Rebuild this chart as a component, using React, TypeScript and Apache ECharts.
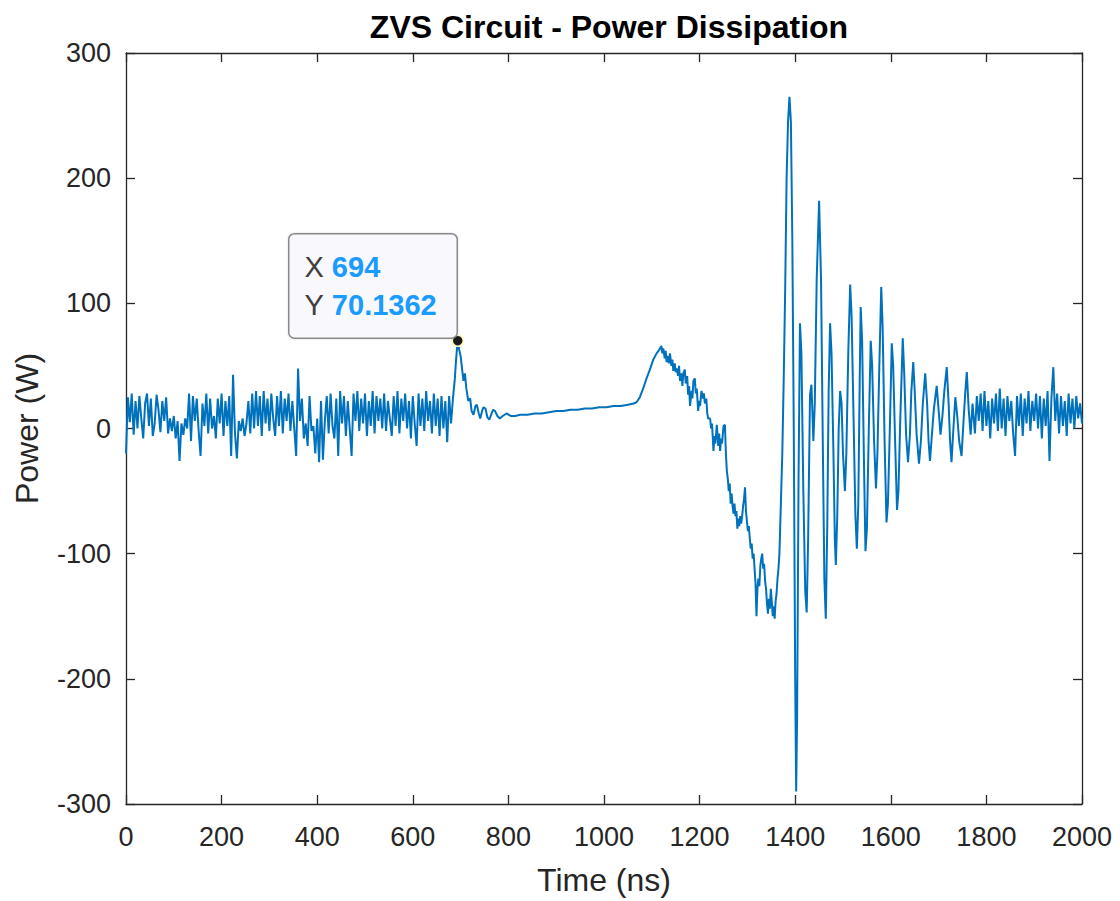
import React, { useEffect, useRef } from "react";
import * as echarts from "echarts";

// Noise before the switching event, sampled every 4 ns from t = 0
const noiseStartT = 0;
const noiseStep = 4;
const noiseBefore = [
  -20, 25, 5, 28, -5, 22, 0, 26, 8, -8,
  20, 28, 2, 24, -6, 4, 27, 15, -3, 22,
  6, 25, -4, 8, -2, 10, -8, 6, -26, 4,
  -5, 8, 0, 28, -10, 26, 6, 24, -2, -22,
  20, 2, 28, -4, 24, 0, 10, -8, 24, 4,
  28, -6, 22, 2, 26, -22, 43, -4, -24, 6,
  -2, 8, -6, 4, 22, -4, 28, 0, 30, 2,
  26, -6, 30, 4, 24, -2, 28, 8, -6, 26,
  2, 30, -4, 24, 6, 28, -2, 22, 0, -22,
  48, 6, 24, -8, 4, -14, 26, -2, 2, -20,
  8, -27, 22, -25, 6, 26, -4, 28, 2, -8,
  24, -22, 30, 4, 26, -6, 22, 0, -22, 28,
  6, 30, -2, 24, 4, 28, -6, 22, 2, 30,
  -4, 26, 6, 24, 0, 28, -2, 22, 8, -6,
  26, 2, 30, -4, 24, 6, 28, 0, 22, -8,
  26, 4, -14, 28, 2, 24, -2, 30, 6, 22,
  -4, 28, 2, 24, -6, 26, 0, 22, -11, 26,
  4, 24,
];

// Turn-off peak, plateau and hump: [time ns, power W]
const humpPoints: [number, number][] = [
  [688, 40], [690, 52], [692, 62], [694, 70.1362], [697, 63], [700, 58], [703, 48],
  [706, 38], [709, 44], [712, 32], [716, 22], [720, 24], [723, 14], [727, 11],
  [731, 18], [734, 19], [738, 12], [741, 8], [745, 14], [748, 17], [752, 16],
  [756, 9], [760, 7], [764, 11], [768, 15], [772, 14], [777, 10], [782, 8],
  [788, 10], [796, 12], [805, 10], [814, 10], [825, 11], [840, 11], [855, 12],
  [870, 12], [885, 13], [900, 14], [915, 14], [930, 15], [945, 15], [960, 16],
  [975, 16], [990, 17], [1005, 17], [1020, 18], [1035, 18], [1050, 19], [1062, 20],
  [1068, 21], [1075, 25], [1082, 32], [1089, 40], [1096, 47], [1103, 55], [1110, 60],
  [1114, 62], [1117, 64], [1120, 66], [1122, 60], [1124, 64], [1127, 56], [1129, 62],
  [1131, 53], [1134, 58], [1136, 52], [1138, 60], [1141, 50], [1143, 55], [1145, 46],
  [1148, 52], [1150, 45], [1152, 48], [1155, 42], [1157, 50], [1159, 38], [1162, 44],
  [1164, 34], [1166, 44], [1169, 47], [1171, 36], [1174, 42], [1176, 27], [1178, 34],
  [1180, 18], [1183, 30], [1185, 24], [1187, 38], [1190, 40], [1192, 28], [1194, 32],
  [1197, 14], [1199, 22], [1201, 18], [1204, 30], [1207, 24], [1209, 28], [1211, 20],
  [1214, 24], [1216, 12], [1218, 8],
];

// Descent and ringing: [time ns, power W]
const ringPoints: [number, number][] = [
  [1222, 8], [1224, 0], [1226, 4], [1229, -18], [1231, -6], [1233, -12], [1236, 3],
  [1238, -8], [1239, -14], [1241, -4], [1243, -18], [1245, -8], [1247, -12], [1250, 2],
  [1253, 3], [1255, -20], [1257, -34], [1259, -40], [1261, -50], [1263, -44], [1265, -60],
  [1267, -52], [1269, -62], [1271, -68], [1273, -60], [1275, -70], [1277, -66],
  [1279, -80], [1281, -72], [1283, -78], [1285, -70], [1287, -76], [1289, -70],
  [1291, -62], [1293, -56], [1295, -47], [1297, -66], [1299, -74], [1301, -82],
  [1303, -78], [1305, -88], [1307, -96], [1309, -92], [1311, -104], [1313, -100],
  [1315, -112], [1317, -124], [1319, -150], [1321, -128], [1323, -120], [1325, -126],
  [1327, -110], [1329, -104], [1331, -100], [1333, -112], [1335, -108], [1337, -122],
  [1339, -128], [1341, -140], [1343, -148], [1345, -136], [1347, -144], [1349, -128],
  [1351, -138], [1353, -150], [1355, -142], [1357, -152], [1359, -138], [1361, -132],
  [1363, -120], [1365, -112], [1367, -100], [1370, -60], [1373, -20], [1376, 40],
  [1379, 110], [1382, 200], [1385, 245], [1388, 265], [1391, 245], [1394, 150],
  [1397, 0], [1400, -200], [1402, -290], [1404, -230], [1407, -40], [1410, 84],
  [1413, 60], [1417, -50], [1421, -130], [1424, -147], [1427, -90], [1431, 27],
  [1434, 35], [1438, -10], [1441, 20], [1445, 120], [1450, 182], [1454, 120],
  [1458, -20], [1461, -120], [1464, -152], [1467, -80], [1470, 30], [1473, 84],
  [1476, 60], [1480, -20], [1483, -90], [1485, -109], [1488, -70], [1491, 0],
  [1494, 30], [1497, 20], [1500, -20], [1504, -50], [1507, -20], [1511, 60],
  [1515, 115], [1518, 90], [1522, 10], [1526, -70], [1529, -96], [1532, -60],
  [1535, 40], [1537, 97], [1540, 70], [1544, -30], [1547, -98], [1550, -80],
  [1554, 0], [1558, 70], [1561, 50], [1565, -10], [1569, -48], [1572, -20],
  [1576, 50], [1580, 113], [1583, 80], [1587, -10], [1591, -75], [1594, -60],
  [1598, 0], [1602, 68], [1605, 50], [1609, -10], [1613, -65], [1616, -50],
  [1620, 10], [1625, 72], [1628, 45], [1632, -5], [1636, -27], [1640, -5],
  [1643, 30], [1647, 53], [1650, 30], [1654, -5], [1659, -28], [1663, -10],
  [1667, 20], [1672, 44], [1676, 20], [1679, -10], [1682, -26], [1686, -5],
  [1690, 15], [1696, 34], [1700, 15], [1704, -5], [1708, 10], [1712, 30],
  [1717, 49], [1721, 20], [1724, -10], [1727, -27], [1731, 0], [1735, 25],
  [1739, 10], [1743, -10], [1748, -22], [1752, 5], [1756, 30], [1759, 45],
  [1763, 15], [1767, -5], [1771, 20],
];

// Noise after the ringing, every 4 ns from t = 1776
const noiseAfterStartT = 1776;
const noiseAfter = [
  -4, 26, 6, 28, -2, 30, 2, 22, -8, 24,
  4, 28, -2, 32, 0, 24, -6, 26, 6, 22,
  -4, -22, 26, 2, 28, -6, 24, 4, 30, -2,
  22, 6, 28, 0, 26, -8, 24, 2, 30, -26,
  24, 49, 6, 28, -4, 26, 2, 22, -6, 28,
  4, 24, 0, 26, 8, 20, 4,
];

const xTicks = { min: 0, max: 2000, interval: 200 };
const yTicks = { min: -300, max: 300, interval: 100 };
const datatip = { x: 694, y: 70.1362 };

const FONT = "'Liberation Sans', Arial, Helvetica, sans-serif";
const AXIS_COLOR = "#262626";

export default function App() {
  const ref = useRef<HTMLDivElement>(null);

  useEffect(() => {
    if (!ref.current) return;
    const chart = echarts.init(ref.current, undefined, { renderer: "svg" });

    const data: [number, number][] = [];
    noiseBefore.forEach((v, i) => data.push([noiseStartT + i * noiseStep, v]));
    humpPoints.forEach((p) => data.push(p));
    ringPoints.forEach((p) => data.push(p));
    noiseAfter.forEach((v, i) => data.push([noiseAfterStartT + i * noiseStep, v]));

    const axisLine = { show: true, onZero: false, lineStyle: { color: AXIS_COLOR, width: 1.3 } };
    const axisTick = { show: true, inside: true, length: 9, lineStyle: { color: AXIS_COLOR, width: 1.3 } };
    const plain = (v: number) => String(v);

    chart.setOption({
      animation: false,
      backgroundColor: "#ffffff",
      title: {
        text: "ZVS Circuit - Power Dissipation",
        left: 604,
        textAlign: "center",
        top: 6,
        textStyle: { fontFamily: FONT, fontSize: 32, fontWeight: "bold", color: "#000000" },
      },
      grid: { left: 126, right: 38, top: 53, bottom: 93, containLabel: false },
      xAxis: [
        {
          type: "value",
          position: "bottom",
          ...xTicks,
          name: "Time (ns)",
          nameLocation: "middle",
          nameGap: 60,
          nameTextStyle: { fontFamily: FONT, fontSize: 32, color: AXIS_COLOR },
          axisLine,
          axisTick,
          splitLine: { show: false },
          axisLabel: { fontFamily: FONT, fontSize: 27, color: AXIS_COLOR, margin: 19, formatter: plain },
        },
        {
          type: "value",
          position: "top",
          ...xTicks,
          axisLine,
          axisTick,
          splitLine: { show: false },
          axisLabel: { show: false },
        },
      ],
      yAxis: [
        {
          type: "value",
          position: "left",
          ...yTicks,
          name: "Power (W)",
          nameLocation: "middle",
          nameGap: 83,
          nameTextStyle: { fontFamily: FONT, fontSize: 32, color: AXIS_COLOR },
          axisLine,
          axisTick,
          splitLine: { show: false },
          axisLabel: { fontFamily: FONT, fontSize: 27, color: AXIS_COLOR, margin: 15, formatter: plain },
        },
        {
          type: "value",
          position: "right",
          ...yTicks,
          axisLine,
          axisTick,
          splitLine: { show: false },
          axisLabel: { show: false },
        },
      ],
      series: [
        {
          type: "line",
          xAxisIndex: 0,
          yAxisIndex: 0,
          data,
          showSymbol: false,
          lineStyle: { color: "#0072BD", width: 2 },
          itemStyle: { color: "#0072BD" },
          markPoint: {
            silent: true,
            symbol: "circle",
            symbolSize: 11,
            itemStyle: { color: "#1a1a1a", borderColor: "#fff7c0", borderWidth: 1.5 },
            label: {
              show: true,
              position: [-162, -100],
              align: "left",
              verticalAlign: "top",
              width: 137,
              formatter: () =>
                `{k|X }{v|${datatip.x}}\n{k|Y }{v|${datatip.y}}`,
              backgroundColor: "#f8f8fd",
              borderColor: "#8a8a8a",
              borderWidth: 1.5,
              borderRadius: 5,
              padding: [14, 15, 13, 15],
              shadowColor: "rgba(0,0,0,0.15)",
              shadowBlur: 2,
              rich: {
                k: { fontFamily: FONT, fontSize: 29, color: "#404040", lineHeight: 38 },
                v: { fontFamily: FONT, fontSize: 29, fontWeight: "bold", color: "#1a9bff", lineHeight: 38 },
              },
            },
            data: [{ coord: [datatip.x, datatip.y] }],
          },
        },
      ],
    });

    return () => chart.dispose();
  }, []);

  return (
    <div
      ref={ref}
      style={{ position: "absolute", left: 0, top: 0, width: 1120, height: 901 }}
    />
  );
}
